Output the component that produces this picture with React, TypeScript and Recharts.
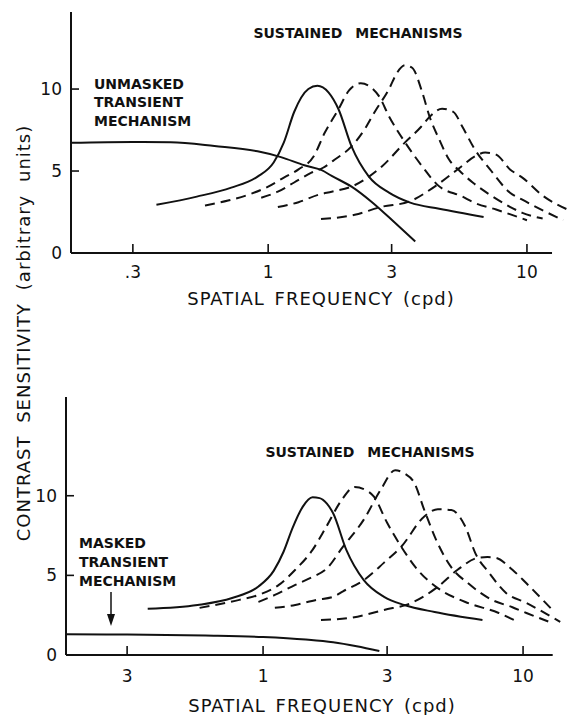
import React from "react";
import { LineChart, Line, XAxis, YAxis, ReferenceLine } from "recharts";

const INK = "#111";
const FONT = '"DejaVu Sans", sans-serif';

// tick values / labels
const xTickValues = [0.3, 1, 3, 10];
const topXTickLabels = [".3", "1", "3", "10"];
const bottomXTickLabels = ["3", "1", "3", "10"];
const yTickValues = [0, 5, 10];

// upper panel: unmasked transient + sustained mechanisms  [cpd, sensitivity]
const topTransient = [
  [0.173, 6.72], [0.3, 6.77], [0.42, 6.75], [0.62, 6.52], [0.91, 6.2], [1.12, 5.85],
  [1.38, 5.35], [1.61, 5.05], [1.76, 4.7], [2.1, 4.05], [2.52, 3.1], [3.09, 1.84], [3.7, 0.7],
];
const topSust1 = [
  [0.37, 2.94], [0.53, 3.44], [0.72, 3.99], [0.91, 4.66], [1.05, 5.52], [1.15, 6.75],
  [1.26, 8.6], [1.43, 10.0], [1.55, 10.2], [1.71, 9.8], [1.87, 8.77], [2.1, 6.5],
  [2.45, 4.66], [2.93, 3.68], [3.54, 3.07], [4.58, 2.7], [6.8, 2.2],
];
const topSust2 = [
  [0.57, 2.9], [0.7, 3.2], [0.84, 3.56], [1.0, 4.05], [1.15, 4.6], [1.31, 5.1],
  [1.5, 5.9], [1.65, 7.3], [1.87, 8.77], [2.05, 9.9], [2.28, 10.35], [2.5, 10.1],
  [2.68, 9.57], [2.93, 8.34], [3.38, 6.75], [3.94, 5.28], [4.5, 4.17], [5.63, 3.44],
  [6.3, 3.05], [7.6, 2.65], [10.0, 2.0],
];
const topSust3 = [
  [0.94, 3.37], [1.09, 3.74], [1.26, 4.3], [1.47, 4.9], [1.63, 5.2], [1.81, 5.7],
  [2.1, 6.5], [2.36, 7.55], [2.58, 8.6], [2.93, 10.0], [3.15, 11.0], [3.38, 11.45],
  [3.6, 11.3], [3.94, 9.8], [4.2, 8.34], [4.58, 6.93], [5.0, 5.7], [5.5, 5.0],
  [6.17, 4.3], [7.18, 3.56], [8.59, 2.82], [9.6, 2.45], [11.5, 2.1],
];
const topSust4 = [
  [1.09, 2.8], [1.31, 3.1], [1.57, 3.56], [1.76, 3.74], [2.1, 4.05], [2.75, 5.28],
  [3.38, 6.75], [3.9, 7.7], [4.2, 8.3], [4.7, 8.8], [5.2, 8.6], [5.63, 7.7],
  [6.3, 6.3], [7.2, 5.1], [8.6, 3.68], [9.6, 3.25], [13.8, 2.0],
];
const topSust5 = [
  [1.6, 2.07], [2.16, 2.33], [2.75, 2.82], [3.5, 3.13], [4.4, 4.05], [5.5, 5.2],
  [6.3, 5.9], [6.9, 6.13], [7.6, 6.0], [8.6, 5.1], [9.6, 4.6], [11.5, 3.5], [14.4, 2.64],
];

// lower panel: masked transient + sustained mechanisms
const botTransient = [
  [0.175, 1.3], [0.3, 1.28], [0.6, 1.22], [1.0, 1.13], [1.46, 0.97], [1.86, 0.8],
  [2.29, 0.55], [2.8, 0.25],
];
const botSust1 = [
  [0.36, 2.9], [0.56, 3.14], [0.76, 3.58], [0.96, 4.3], [1.1, 5.3], [1.2, 6.5],
  [1.3, 8.0], [1.42, 9.3], [1.55, 9.9], [1.65, 9.85], [1.76, 9.5], [1.86, 8.9],
  [2.09, 6.6], [2.44, 4.7], [2.92, 3.65], [3.49, 3.14], [4.57, 2.7], [6.98, 2.2],
];
const botSust2 = [
  [0.57, 2.96], [0.81, 3.46], [0.96, 3.77], [1.15, 4.4], [1.33, 5.35], [1.55, 6.6],
  [1.75, 8.05], [2.0, 9.7], [2.25, 10.55], [2.45, 10.4], [2.67, 9.94], [3.0, 8.3],
  [3.4, 6.8], [3.93, 5.35], [4.7, 4.2], [6.0, 3.33], [8.06, 2.64], [9.56, 2.08],
];
const botSust3 = [
  [0.96, 3.33], [1.11, 3.77], [1.33, 4.4], [1.55, 4.9], [1.75, 5.4], [2.03, 6.8],
  [2.44, 8.5], [2.84, 10.4], [3.22, 11.6], [3.5, 11.4], [3.82, 10.8], [4.17, 9.1],
  [4.7, 7.0], [5.3, 5.5], [6.15, 4.5], [7.6, 3.46], [9.1, 3.0], [10.3, 2.64], [12.5, 2.1],
];
const botSust4 = [
  [1.11, 2.96], [1.33, 3.14], [1.6, 3.46], [1.86, 3.65], [2.03, 4.0], [2.44, 4.7],
  [2.92, 5.8], [3.4, 6.8], [4.17, 8.7], [4.7, 9.15], [5.3, 9.1], [6.0, 8.05],
  [6.55, 6.4], [7.4, 5.16], [8.6, 3.9], [10.3, 3.27], [13.9, 2.08],
];
const botSust5 = [
  [1.67, 2.2], [2.17, 2.33], [2.92, 2.83], [3.72, 3.27], [4.7, 4.28], [5.6, 5.35],
  [6.7, 6.1], [7.3, 6.15], [7.85, 6.1], [9.1, 5.35], [10.3, 4.5], [13.2, 2.7],
];

const toPts = (arr: number[][]) => arr.map(([x, y]) => ({ x, y }));

const makeXTick = (labels: string[], dy: number) => (props: any) => {
  const { x, y, index } = props;
  return (
    <g>
      <line x1={x} y1={y} x2={x} y2={y - 9} stroke={INK} strokeWidth={1.6} />
      <text x={x} y={y + dy} textAnchor="middle" fontFamily={FONT} fontSize={17} fill={INK}>
        {labels[index]}
      </text>
    </g>
  );
};

const YTick = (props: any) => {
  const { x, y, payload } = props;
  return (
    <g>
      <line x1={x} y1={y} x2={x + 8} y2={y} stroke={INK} strokeWidth={1.6} />
      <text x={x - 9} y={y + 6} textAnchor="end" fontFamily={FONT} fontSize={17} fill={INK}>
        {payload.value}
      </text>
    </g>
  );
};

function Panel({
  transient, sustained, xDomain, yMax, axisEnd, height, margin, tickLabels, labelDy,
}: {
  transient: number[][];
  sustained: number[][][];
  xDomain: [number, number];
  yMax: number;
  axisEnd: number;
  height: number;
  margin: { top: number; right: number; bottom: number; left: number };
  tickLabels: string[];
  labelDy: number;
}) {
  return (
    <LineChart width={574} height={height} margin={margin}>
      <XAxis
        dataKey="x"
        type="number"
        scale="log"
        domain={xDomain}
        allowDataOverflow
        ticks={xTickValues}
        interval={0}
        height={30}
        axisLine={false}
        tickLine={false}
        tickSize={0}
        tickMargin={0}
        tick={makeXTick(tickLabels, labelDy)}
      />
      <YAxis
        type="number"
        domain={[0, yMax]}
        allowDataOverflow
        ticks={yTickValues}
        interval={0}
        width={40}
        axisLine={{ stroke: INK, strokeWidth: 2 }}
        tickLine={false}
        tickSize={0}
        tickMargin={0}
        tick={YTick}
      />
      <ReferenceLine
        segment={[{ x: xDomain[0], y: 0 }, { x: axisEnd, y: 0 }]}
        stroke={INK}
        strokeWidth={2}
        ifOverflow="visible"
      />
      <Line
        data={toPts(transient)}
        dataKey="y"
        type="monotone"
        stroke={INK}
        strokeWidth={2}
        dot={false}
        isAnimationActive={false}
      />
      {sustained.map((s, i) => (
        <Line
          key={i}
          data={toPts(s)}
          dataKey="y"
          type="monotone"
          stroke={INK}
          strokeWidth={2}
          strokeDasharray={i === 0 ? undefined : "10 6"}
          dot={false}
          isAnimationActive={false}
        />
      ))}
    </LineChart>
  );
}

const boldText = { fontFamily: FONT, fontSize: 14, fontWeight: 700, fill: INK } as const;
const axisText = { fontFamily: FONT, fontSize: 18, fill: INK, letterSpacing: 1 } as const;

export default function App() {
  return (
    <div style={{ position: "absolute", left: 0, top: 0, width: 574, height: 715, background: "#fff" }}>
      <div style={{ position: "absolute", left: 0, top: 0 }}>
        <Panel
          transient={topTransient}
          sustained={[topSust1, topSust2, topSust3, topSust4, topSust5]}
          xDomain={[0.173, 15.2]}
          yMax={14.7}
          axisEnd={12.5}
          height={300}
          margin={{ top: 12, right: 0, bottom: 17, left: 31 }}
          tickLabels={topXTickLabels}
          labelDy={25}
        />
      </div>
      <div style={{ position: "absolute", left: 0, top: 380 }}>
        <Panel
          transient={botTransient}
          sustained={[botSust1, botSust2, botSust3, botSust4, botSust5]}
          xDomain={[0.1746, 15.7]}
          yMax={16.2}
          axisEnd={13.0}
          height={320}
          margin={{ top: 17, right: 0, bottom: 15, left: 26 }}
          tickLabels={bottomXTickLabels}
          labelDy={27}
        />
      </div>
      <svg
        width={574}
        height={715}
        style={{ position: "absolute", left: 0, top: 0, pointerEvents: "none" }}
      >
        <text x={23} y={333} transform="rotate(-90 23 333)" textAnchor="middle" dominantBaseline="central"
          {...axisText} wordSpacing={6}>
          CONTRAST SENSITIVITY (arbitrary units)
        </text>

        <text x={358} y={38} textAnchor="middle" {...boldText} wordSpacing={8}>SUSTAINED MECHANISMS</text>
        <text x={94} y={89} {...boldText}>UNMASKED</text>
        <text x={94} y={107} {...boldText}>TRANSIENT</text>
        <text x={94} y={126} {...boldText}>MECHANISM</text>
        <text x={321} y={305} textAnchor="middle" {...axisText} wordSpacing={3}>SPATIAL FREQUENCY (cpd)</text>

        <text x={370} y={457} textAnchor="middle" {...boldText} wordSpacing={8}>SUSTAINED MECHANISMS</text>
        <text x={79} y={548} {...boldText}>MASKED</text>
        <text x={79} y={567} {...boldText}>TRANSIENT</text>
        <text x={79} y={586} {...boldText}>MECHANISM</text>
        <line x1={111} y1={592} x2={111} y2={617} stroke={INK} strokeWidth={1.5} />
        <polygon points="107,614 115,614 111,626" fill={INK} />
        <text x={322} y={712} textAnchor="middle" {...axisText} wordSpacing={3}>SPATIAL FREQUENCY (cpd)</text>
      </svg>
    </div>
  );
}
